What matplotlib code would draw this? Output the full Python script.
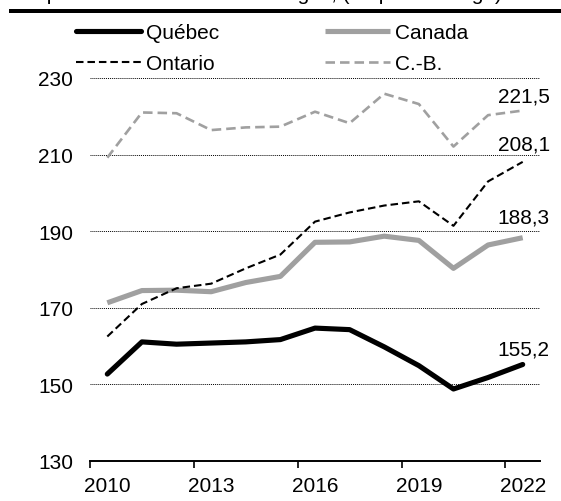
import matplotlib.pyplot as plt
from matplotlib.patches import Rectangle

plt.rcParams['font.family'] = ['Liberation Sans', 'DejaVu Sans']

years = [2010, 2011, 2012, 2013, 2014, 2015, 2016, 2017, 2018, 2019, 2020, 2021, 2022]
quebec = [152.7, 161.1, 160.5, 160.8, 161.1, 161.7, 164.7, 164.3, 159.8, 154.9, 148.8, 151.8, 155.2]
canada = [171.3, 174.5, 174.6, 174.2, 176.6, 178.2, 187.1, 187.2, 188.7, 187.6, 180.3, 186.4, 188.3]
ontario = [162.5, 171.0, 175.1, 176.3, 180.3, 183.9, 192.5, 194.9, 196.7, 197.8, 191.4, 203.0, 208.1]
cb = [209.2, 221.0, 220.8, 216.4, 217.1, 217.3, 221.2, 218.2, 225.9, 223.2, 212.1, 220.3, 221.5]
end_labels = ['155,2', '188,3', '208,1', '221,5']
year_labels = ['2010', '2013', '2016', '2019', '2022']
yticks = [130, 150, 170, 190, 210, 230]

fig = plt.figure(figsize=(5.61, 5.02), dpi=100)
ax = fig.add_axes([90 / 561, 1 - 462 / 502, 450 / 561, 383 / 502])

x = list(range(len(years)))
grey = '#a0a0a0'
ax.plot(x, quebec, color='black', lw=3.7, label='Québec', solid_capstyle='round', zorder=4)
ax.plot(x, canada, color=grey, lw=3.7, label='Canada', solid_capstyle='butt', zorder=3)
ax.plot(x, ontario, color='black', lw=1.5, ls=(0, (3.6, 1.9)), label='Ontario', zorder=5)
ax.plot(x, cb, color=grey, lw=1.9, ls=(0, (3.6, 1.9)), label='C.-B.', zorder=2)

ax.set_xlim(-0.5, len(years) - 0.5)
ax.set_ylim(130, 230)

for v in yticks[1:]:
    ax.axhline(v, color='black', lw=0.7, ls=(0, (1, 1)), zorder=1)

ax.set_yticks(yticks)
ax.set_yticklabels([str(v) for v in yticks], fontsize=15)
ax.tick_params(axis='y', length=0, pad=12)

ax.set_xticks([i - 0.5 for i in range(0, len(years), 3)])
ax.set_xticklabels([])
ax.tick_params(axis='x', which='major', length=5, width=1.2, direction='out')
ax.set_xticks(list(range(0, len(years), 3)), minor=True)
ax.set_xticklabels(year_labels, minor=True, fontsize=15)
ax.tick_params(axis='x', which='minor', length=0, pad=11)

for s in ['top', 'right', 'left']:
    ax.spines[s].set_visible(False)
ax.spines['bottom'].set_linewidth(1.4)
ax.spines['bottom'].set_zorder(6)

offsets = [15, 21, 18, 15]
for series, lab, dy in zip([quebec, canada, ontario, cb], end_labels, offsets):
    ax.annotate(lab, (x[-1], series[-1]), xytext=(27, dy), textcoords='offset pixels',
                ha='right', va='center', fontsize=15, annotation_clip=False)

handles, labels = ax.get_legend_handles_labels()
order = [0, 2, 1, 3]
fig.legend([handles[i] for i in order], [labels[i] for i in order], ncol=2,
           loc='upper left', bbox_to_anchor=(76 / 561, 1 - 24 / 502), frameon=False,
           fontsize=15, handlelength=3.1, handletextpad=0.25, columnspacing=5.1,
           labelspacing=0.6, borderpad=0, borderaxespad=0)

fig.text(20 / 561, 1.0, 'Dépenses de santé des ménages, (en pourcentage)',
         fontsize=15, va='baseline', ha='left')
fig.add_artist(Rectangle((9 / 561, 1 - 14 / 502), 1, 4 / 502, transform=fig.transFigure,
                         color='black', lw=0))

fig.savefig('out.png', dpi=100)
